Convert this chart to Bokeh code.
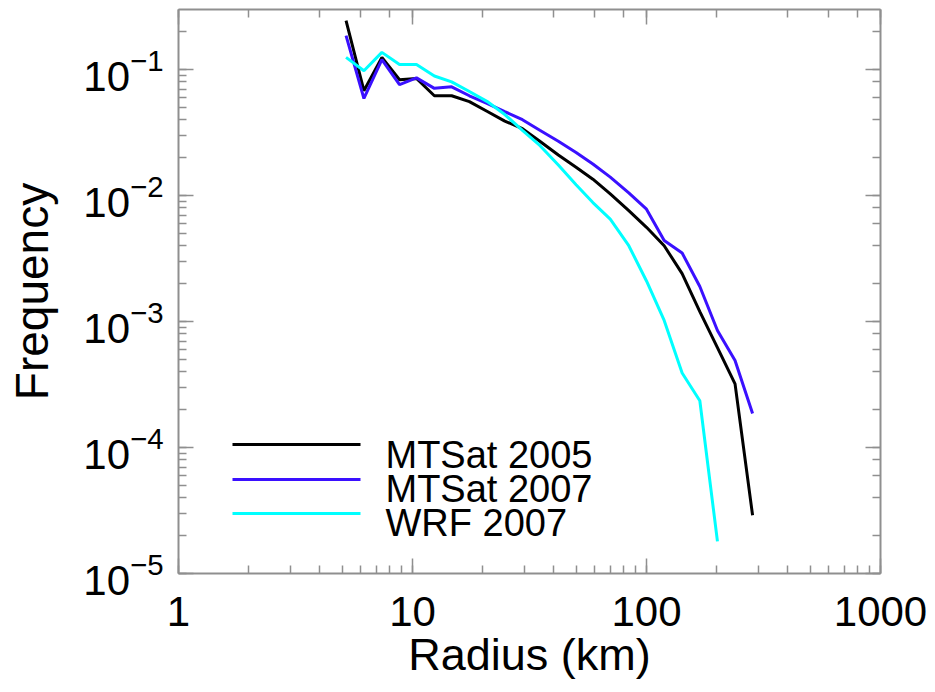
import math
from bokeh.plotting import figure
from bokeh.models import (Range1d, LogAxis, LogTicker, Label, CustomJSTickFormatter,
                          LogTickFormatter)
from bokeh.embed import file_html
from bokeh.resources import INLINE

# ---------------- data ----------------
radius_km = [5.2, 6.2, 7.4, 8.8, 10.4, 12.4, 14.7, 17.5, 20.8, 24.8, 29.5, 35.0,
             42.0, 50.0, 59.0, 70.0, 84.0, 100.0, 119.0, 142.0, 169.0, 201.0, 239.0, 284.0]

mtsat_2005 = [0.245, 0.068, 0.125, 0.083, 0.085, 0.062, 0.062, 0.0557, 0.0467, 0.039,
              0.034, 0.027, 0.021, 0.0168, 0.0135, 0.0103, 0.0076, 0.0056, 0.0040,
              0.0024, 0.0012, 0.00062, 0.00032, 2.9e-5]

mtsat_2007 = [0.186, 0.059, 0.12, 0.076, 0.086, 0.071, 0.073, 0.062, 0.054, 0.0464,
              0.040, 0.033, 0.027, 0.022, 0.0178, 0.014, 0.0105, 0.0078, 0.0044,
              0.0035, 0.0019, 0.00085, 0.00049, 0.000186]

wrf_2007 = [0.125, 0.098, 0.137, 0.110, 0.110, 0.089, 0.080, 0.067, 0.056, 0.044,
            0.033, 0.025, 0.0175, 0.0122, 0.0088, 0.0065, 0.0040, 0.0021, 0.00102,
            0.00039, 0.000235, 1.8e-5]

series_names = ["MTSat 2005", "MTSat 2007", "WRF 2007"]
series_values = [mtsat_2005, mtsat_2007, wrf_2007]
series_colors = ["#000000", "#3a10ff", "#00ffff"]

x_tick_values = [1, 10, 100, 1000]
x_tick_labels = ["1", "10", "100", "1000"]

X_MIN, X_MAX = 1.0, 1000.0
Y_MIN, Y_MAX = 1e-5, 0.3

# ---------------- layout ----------------
W, H = 935, 692
FL, FR, FT, FB = 178, 55, 9, 119
FW, FH = W - FL - FR, H - FT - FB
FONT = "Liberation Sans"
AXIS_COLOR = "#8f8f8f"


def xdata(px):
    lo, hi = math.log10(X_MIN), math.log10(X_MAX)
    return 10 ** (lo + (px - FL) / FW * (hi - lo))


def ydata(py):
    lo, hi = math.log10(Y_MIN), math.log10(Y_MAX)
    return 10 ** (hi - (py - FT) / FH * (hi - lo))


p = figure(width=W, height=H, x_axis_type="log", y_axis_type="log",
           x_range=Range1d(X_MIN, X_MAX), y_range=Range1d(Y_MIN, Y_MAX),
           output_backend="svg", toolbar_location=None,
           min_border_left=FL, min_border_right=FR, min_border_top=FT,
           min_border_bottom=FB)
p.xgrid.visible = False
p.ygrid.visible = False
p.outline_line_color = None
p.background_fill_color = "white"
p.border_fill_color = "white"

top_axis = LogAxis(ticker=LogTicker())
right_axis = LogAxis(ticker=LogTicker())
p.add_layout(top_axis, "above")
p.add_layout(right_axis, "right")

for ax in p.axis:
    ax.axis_line_color = AXIS_COLOR
    ax.axis_line_width = 2
    ax.major_tick_line_color = AXIS_COLOR
    ax.major_tick_line_width = 1.5
    ax.minor_tick_line_color = AXIS_COLOR
    ax.minor_tick_line_width = 1.5
    ax.major_tick_in = 15
    ax.major_tick_out = 0
    ax.minor_tick_in = 8
    ax.minor_tick_out = 0
    ax.major_label_text_font = FONT
    ax.major_label_text_color = "black"
    ax.axis_label_text_font = FONT
    ax.axis_label_text_font_style = "normal"
    ax.axis_label_text_color = "black"

for ax in (top_axis, right_axis):
    ax.formatter = CustomJSTickFormatter(code="return ''")
    ax.major_label_standoff = 0

# bottom axis: plain numbers
xa = p.below[0]
xa.formatter = CustomJSTickFormatter(code="return tick >= 1 ? tick.toFixed(0) : ''")
xa.major_label_overrides = {v: s for v, s in zip(x_tick_values, x_tick_labels)}
xa.major_label_text_font_size = "42px"
xa.major_label_standoff = 23
xa.axis_label = "Radius (km)"
xa.axis_label_text_font_size = "45px"
xa.axis_label_standoff = 0

# left axis: 10^n with superscripts
ya = p.left[0]
ya.formatter = LogTickFormatter()
ya.major_label_text_font_size = "42px"
ya.major_label_standoff = 15
ya.axis_label = "Frequency"
ya.axis_label_text_font_size = "46px"
ya.axis_label_standoff = 22

# ---------------- data lines ----------------
for name, vals, col in zip(series_names, series_values, series_colors):
    p.line(radius_km[:len(vals)], vals, line_color=col, line_width=3)

# ---------------- legend ----------------
legend_line_py = [444, 479, 513]
legend_text_py = [454, 488, 522]
for name, col, lpy, tpy in zip(series_names, series_colors, legend_line_py, legend_text_py):
    p.line([xdata(232), xdata(360)], [ydata(lpy), ydata(lpy)], line_color=col,
           line_width=3)
    p.add_layout(Label(x=xdata(385), y=ydata(tpy), text=name, text_align="left",
                       text_baseline="alphabetic", text_font=FONT,
                       text_font_size="38px", text_color="black"))

open("out.html", "w").write(file_html(p, INLINE))
